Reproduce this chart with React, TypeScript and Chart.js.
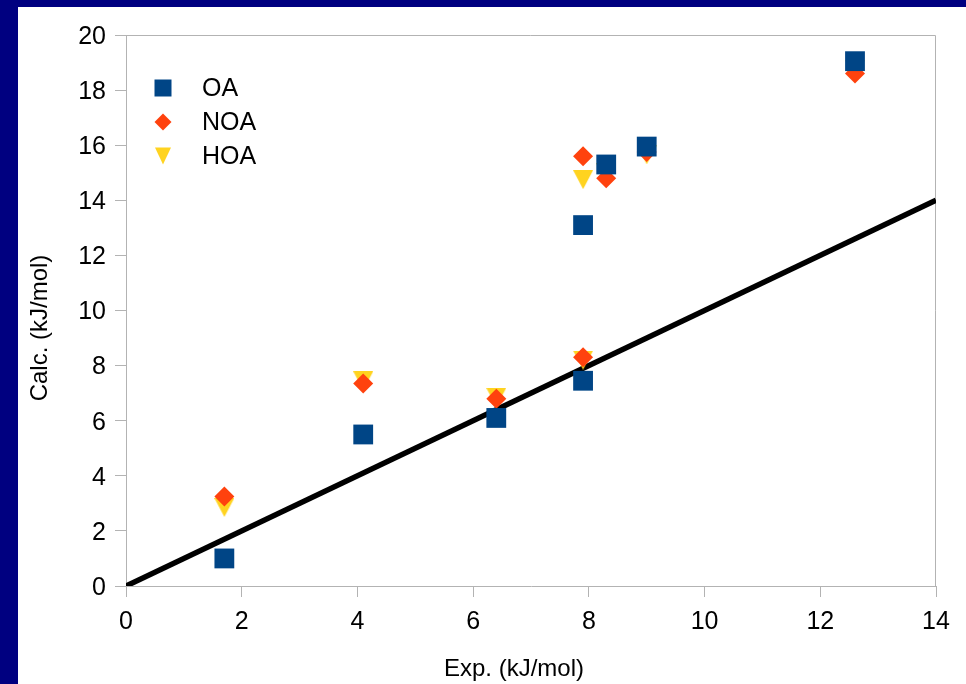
import React, { useEffect, useRef } from 'react';
import { Chart, registerables } from 'chart.js';

Chart.register(...registerables);

// ---- data ----
const expValues = [1.7, 4.1, 6.4, 7.9, 7.9, 8.3, 9.0, 12.6];
const oaValues = [1.0, 5.5, 6.1, 7.45, 13.1, 15.3, 15.95, 19.05];
const noaValues = [3.25, 7.35, 6.8, 8.3, 15.6, 14.8, 15.75, 18.6];
const hoaValues = [2.85, 7.45, 6.85, 8.2, 14.75, 15.0, 15.65, 18.75];
const refLineX = [0, 14];
const refLineY = [0, 14];
const seriesNames = ['OA', 'NOA', 'HOA'];
const xAxisRange = [0, 14];
const yAxisRange = [0, 20];
const tickStep = 2;
const xTitle = 'Exp. (kJ/mol)';
const yTitle = 'Calc. (kJ/mol)';

const COLORS = ['#004586', '#ff420e', '#ffd320'];
const FONT = '"Liberation Sans", Arial, sans-serif';
const TICK_SIZE = 25;
const TITLE_SIZE = 24;
const LEGEND_SIZE = 25;

function makeTriangle(w: number, h: number, color: string) {
  const c = document.createElement('canvas');
  c.width = w;
  c.height = h;
  const ctx = c.getContext('2d')!;
  ctx.fillStyle = color;
  ctx.beginPath();
  ctx.moveTo(0, 0);
  ctx.lineTo(w, 0);
  ctx.lineTo(w / 2, h);
  ctx.closePath();
  ctx.fill();
  return c;
}

const overlayPlugin = {
  id: 'overlay',
  beforeDatasetsDraw(chart: any) {
    const { ctx, chartArea: ca } = chart;
    ctx.save();
    ctx.strokeStyle = '#b3b3b3';
    ctx.lineWidth = 1;
    ctx.beginPath();
    ctx.moveTo(ca.left, ca.top + 0.5);
    ctx.lineTo(ca.right - 0.5, ca.top + 0.5);
    ctx.lineTo(ca.right - 0.5, ca.bottom);
    ctx.stroke();
    ctx.restore();
  },
  afterDraw(chart: any) {
    const { ctx, chartArea: ca } = chart;
    ctx.save();
    // axis titles
    ctx.fillStyle = '#000';
    ctx.font = `${TITLE_SIZE}px ${FONT}`;
    ctx.textAlign = 'center';
    ctx.textBaseline = 'middle';
    ctx.fillText(xTitle, (ca.left + ca.right) / 2 - 17, ca.bottom + 83);
    ctx.save();
    ctx.translate(22, (ca.top + ca.bottom) / 2 + 17.5);
    ctx.rotate(-Math.PI / 2);
    ctx.fillText(yTitle, 0, 0);
    ctx.restore();

    // legend
    const lx = ca.left + 37;
    const rows = [ca.top + 53, ca.top + 87, ca.top + 121];
    const s = 8.5;
    seriesNames.forEach((name, i) => {
      const y = rows[i];
      ctx.fillStyle = COLORS[i];
      ctx.beginPath();
      if (i === 0) {
        ctx.rect(lx - s, y - s, 2 * s, 2 * s);
      } else if (i === 1) {
        ctx.moveTo(lx, y - s);
        ctx.lineTo(lx + s, y);
        ctx.lineTo(lx, y + s);
        ctx.lineTo(lx - s, y);
        ctx.closePath();
      } else {
        ctx.moveTo(lx - 8, y - s);
        ctx.lineTo(lx + 8, y - s);
        ctx.lineTo(lx, y + s);
        ctx.closePath();
      }
      ctx.fill();
      ctx.fillStyle = '#000';
      ctx.font = `${LEGEND_SIZE}px ${FONT}`;
      ctx.textAlign = 'left';
      ctx.textBaseline = 'middle';
      ctx.fillText(name, lx + 39, y + 1);
    });
    ctx.restore();
  },
};

export default function App() {
  const ref = useRef<HTMLCanvasElement>(null);

  useEffect(() => {
    if (!ref.current) return;
    const tri = makeTriangle(20, 19, COLORS[2]);
    const series = [oaValues, noaValues, hoaValues];
    const styles: any[] = ['rect', 'rectRot', tri];
    const radii = [14, 10, 10];
    const datasets: any[] = series.map((vals, i) => ({
      label: seriesNames[i],
      data: expValues.map((x, j) => ({ x, y: vals[j] })),
      pointStyle: styles[i],
      pointRadius: radii[i],
      pointHoverRadius: radii[i],
      backgroundColor: COLORS[i],
      borderColor: COLORS[i],
      pointBorderWidth: 0,
      showLine: false,
      order: i,
    }));
    datasets.push({
      label: 'ref',
      data: refLineX.map((x, j) => ({ x, y: refLineY[j] })),
      showLine: true,
      borderColor: '#000',
      borderWidth: 5.5,
      pointRadius: 0,
      pointHoverRadius: 0,
      order: 3,
    });

    const grid = {
      display: true,
      drawOnChartArea: false,
      drawTicks: true,
      tickLength: 11,
      color: '#b3b3b3',
    };

    const chart = new Chart(ref.current, {
      type: 'scatter',
      data: { datasets },
      plugins: [overlayPlugin],
      options: {
        animation: false,
        responsive: false,
        layout: { padding: { left: 0, right: 30, top: 28, bottom: 0 } },
        plugins: { legend: { display: false }, tooltip: { enabled: false } },
        scales: {
          x: {
            type: 'linear',
            min: xAxisRange[0],
            max: xAxisRange[1],
            ticks: {
              stepSize: tickStep,
              color: '#000',
              font: { family: FONT, size: TICK_SIZE },
              padding: 10,
            },
            grid,
            border: { display: true, color: '#b3b3b3', width: 1 },
            afterFit(scale: any) {
              scale.height = 98;
            },
          },
          y: {
            type: 'linear',
            min: yAxisRange[0],
            max: yAxisRange[1],
            ticks: {
              stepSize: tickStep,
              color: '#000',
              font: { family: FONT, size: TICK_SIZE },
              padding: 9,
              labelOffset: 2,
            },
            grid,
            border: { display: true, color: '#b3b3b3', width: 1 },
            afterFit(scale: any) {
              scale.width = 108;
            },
          },
        },
      },
    });
    return () => chart.destroy();
  }, []);

  return (
    <div
      style={{
        position: 'fixed',
        left: 0,
        top: 0,
        width: 966,
        height: 684,
        background: '#000080',
        overflow: 'hidden',
      }}
    >
      <div
        style={{
          position: 'absolute',
          left: 18,
          top: 7,
          width: 948,
          height: 677,
          background: '#ffffff',
        }}
      >
        <canvas ref={ref} width={948} height={677} style={{ display: 'block' }} />
      </div>
    </div>
  );
}
